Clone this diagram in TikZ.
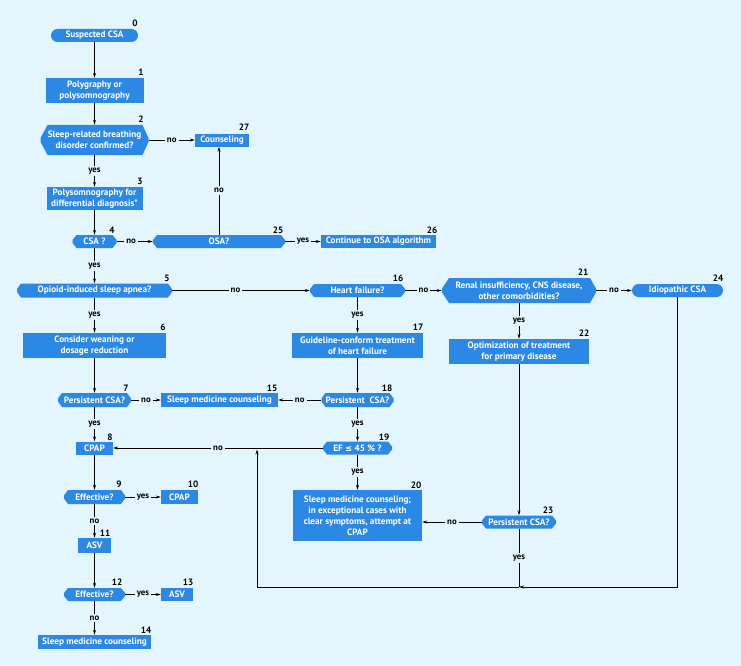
\documentclass[tikz,border=0pt]{standalone}
\usepackage{fontspec}
\setmainfont{PT Sans}
\newfontfamily\symf{DejaVu Sans}
\usetikzlibrary{shapes.misc,arrows.meta}
\definecolor{bg}{RGB}{227,246,253}
\definecolor{boxblue}{RGB}{43,137,229}
\begin{document}
\begin{tikzpicture}[x=1pt,y=-1pt,
 box/.style={inner sep=0pt, text=white, font=\fontsize{9.2}{11}\selectfont\bfseries, align=center},
 rbox/.style={box, rectangle, fill=boxblue},
 stad/.style={box, rounded rectangle, fill=boxblue},
 hexs/.style={box, rectangle, path picture={\fill[boxblue]
   ([xshift=4pt]path picture bounding box.north west) -- ([xshift=-4pt]path picture bounding box.north east) --
   ([yshift=1.5pt]path picture bounding box.east) -- ([yshift=-1.5pt]path picture bounding box.east) --
   ([xshift=-4pt]path picture bounding box.south east) -- ([xshift=4pt]path picture bounding box.south west) --
   ([yshift=-1.5pt]path picture bounding box.west) -- ([yshift=1.5pt]path picture bounding box.west) -- cycle;}},
 hexl/.style={box, rectangle, path picture={\fill[boxblue]
   ([xshift=7pt]path picture bounding box.north west) -- ([xshift=-6pt]path picture bounding box.north east) --
   ([yshift=2pt]path picture bounding box.east) -- ([yshift=-2pt]path picture bounding box.east) --
   ([xshift=-6pt]path picture bounding box.south east) -- ([xshift=7pt]path picture bounding box.south west) --
   ([yshift=-2pt]path picture bounding box.west) -- ([yshift=2pt]path picture bounding box.west) -- cycle;}},
 num/.style={inner sep=0pt, font=\fontsize{9.2}{10}\selectfont\bfseries},
 lab/.style={fill=bg, inner sep=2pt, font=\fontsize{8.8}{10}\selectfont\bfseries},
 ln/.style={draw, line width=0.7pt},
 arr/.style={draw, line width=0.7pt, -{Stealth[length=5pt,width=3pt]}}]
\fill[bg] (0,0) rectangle (741,666);
\useasboundingbox (0,0) rectangle (741,666);
% left column
\node[stad, minimum width=87pt, minimum height=13pt] (b0) at (94.5,35.5) {Suspected CSA};
\node[rbox, minimum width=98pt, minimum height=25pt] (b1) at (94.5,90.5) {Polygraphy or\\polysomnography};
\node[hexl, minimum width=108pt, minimum height=30pt] (b2) at (94.5,140) {Sleep-related breathing\\disorder confirmed?};
\node[rbox, minimum width=54pt, minimum height=13pt] (b27) at (222,140) {Counseling};
\node[rbox, minimum width=96pt, minimum height=23pt] (b3) at (94.5,198.5) {Polysomnography for\\differential diagnosis*};
\node[hexs, minimum width=44pt, minimum height=13pt] (b4) at (94.5,241.5) {CSA ?};
\node[hexs, minimum width=132pt, minimum height=13pt] (b25) at (219,241.5) {OSA?};
\node[rbox, minimum width=115pt, minimum height=13pt] (b26) at (378.5,241.5) {Continue to OSA algorithm};
\node[hexs, minimum width=155pt, minimum height=14pt] (b5) at (94.5,290.5) {Opioid-induced sleep apnea?};
\node[rbox, minimum width=143pt, minimum height=25pt] (b6) at (94.5,345.5) {Consider weaning or\\dosage reduction};
\node[hexs, minimum width=73pt, minimum height=14pt] (b7) at (94.5,400) {Persistent CSA?};
\node[rbox, minimum width=117pt, minimum height=14pt] (b15) at (219.5,400) {Sleep medicine counseling};
\node[rbox, minimum width=37pt, minimum height=13pt] (b8) at (94.5,448) {CPAP};
\node[hexs, minimum width=61pt, minimum height=14pt] (b9) at (94.5,497) {Effective?};
\node[rbox, minimum width=37pt, minimum height=14pt] (b10) at (179.5,497) {CPAP};
\node[rbox, minimum width=33pt, minimum height=15pt] (b11) at (94.5,545.5) {ASV};
\node[hexs, minimum width=61pt, minimum height=13pt] (b12) at (94.5,594.5) {Effective?};
\node[rbox, minimum width=32pt, minimum height=13pt] (b13) at (177,594.5) {ASV};
\node[rbox, minimum width=113pt, minimum height=14pt] (b14) at (94.5,642) {Sleep medicine counseling};
% middle column
\node[hexs, minimum width=95pt, minimum height=13pt] (b16) at (357.5,290.5) {Heart failure?};
\node[rbox, minimum width=131pt, minimum height=25pt] (b17) at (357.5,345.5) {Guideline-conform treatment\\of heart failure};
\node[hexs, minimum width=72pt, minimum height=14pt] (b18) at (357.5,400) {Persistent\ \ CSA?};
\node[hexs, minimum width=69pt, minimum height=13pt] (b19) at (357.5,448) {EF {\symf\fontsize{8.4}{9}\selectfont ≤} 45 \% ?};
\node[rbox, minimum width=129pt, minimum height=51pt] (b20) at (357.5,515.5) {Sleep medicine counseling;\\in exceptional cases with\\clear symptoms, attempt at\\CPAP};
% right column
\node[hexl, minimum width=154pt, minimum height=25pt] (b21) at (519,290.5) {Renal insufficiency, CNS disease,\\other comorbidities?};
\node[stad, minimum width=91pt, minimum height=13pt] (b24) at (677.5,290.5) {Idiopathic CSA};
\node[rbox, minimum width=140pt, minimum height=25pt] (b22) at (519,351.5) {Optimization of treatment\\for primary disease};
\node[hexs, minimum width=74pt, minimum height=13pt] (b23) at (519,522) {Persistent CSA?};
% numbers
\node[num] (n0) at (135,23) {0};
\node[num] (n1) at (141,72) {1};
\node[num] (n2) at (141,119) {2};
\node[num] (n27) at (244,127) {27};
\node[num] (n3) at (140,181) {3};
\node[num] (n4) at (112,230) {4};
\node[num] (n25) at (278,230) {25};
\node[num] (n26) at (432,230) {26};
\node[num] (n5) at (167,278) {5};
\node[num] (n6) at (163,327) {6};
\node[num] (n7) at (126,388) {7};
\node[num] (n15) at (272,388) {15};
\node[num] (n8) at (110,437) {8};
\node[num] (n9) at (119,484) {9};
\node[num] (n10) at (193,484) {10};
\node[num] (n11) at (105,533) {11};
\node[num] (n12) at (117,582) {12};
\node[num] (n13) at (188,582) {13};
\node[num] (n14) at (146,630) {14};
\node[num] (n16) at (398,278) {16};
\node[num] (n17) at (418,327) {17};
\node[num] (n18) at (387,388) {18};
\node[num] (n19) at (384,437) {19};
\node[num] (n20) at (416,485) {20};
\node[num] (n21) at (583,272) {21};
\node[num] (n24) at (718,278) {24};
\node[num] (n22) at (584,333) {22};
\node[num] (n23) at (548,510) {23};
% connectors
\draw[arr] (b0) -- (b1);
\draw[arr] (b1) -- (b2);
\draw[arr] (b2.east) -- node[lab] (l1) {no} (b27.west);
\draw[arr] (b2) -- node[lab] (l2) {yes} (b3);
\draw[arr] (b3) -- (b4);
\draw[arr] (b4.east) -- node[lab, pos=0.4] (l3) {no} (b25.west);
\draw[arr] (b25.north) -- node[lab] (l4) {no} (b25.north |- b27.south);
\draw[arr] (b25.east) -- node[lab] (l5) {yes} (b26.west);
\draw[arr] (b4) -- node[lab] (l6) {yes} (b5);
\draw[arr] (b5.east) -- node[lab, pos=0.46] (l7) {no} (b16.west);
\draw[arr] (b16.east) -- node[lab] (l8) {no} (b21.west);
\draw[arr] (b21.east) -- node[lab] (l9) {no} (b24.west);
\draw[arr] (b5) -- node[lab] (l10) {yes} (b6);
\draw[arr] (b6) -- (b7);
\draw[arr] (b7.east) -- node[lab] (l11) {no} (b15.west);
\draw[arr] (b7) -- node[lab] (l12) {yes} (b8);
\draw[arr] (b8) -- (b9);
\draw[arr] (b9.east) -- node[lab] (l13) {yes} (b10.west);
\draw[arr] (b9) -- node[lab] (l14) {no} (b11);
\draw[arr] (b11) -- (b12);
\draw[arr] (b12.east) -- node[lab] (l15) {yes} (b13.west);
\draw[arr] (b12) -- node[lab] (l16) {no} (b14);
\draw[arr] (b16) -- node[lab] (l17) {yes} (b17);
\draw[arr] (b17) -- (b18);
\draw[arr] (b18.west) -- node[lab] (l18) {no} (b15.east);
\draw[arr] (b18) -- node[lab] (l19) {yes} (b19);
\draw[arr] (b19.west) -- node[lab] (l20) {no} (b8.east);
\draw[arr] (b19) -- node[lab] (l21) {yes} (b20);
\draw[arr] (b21) -- node[lab] (l22) {yes} (b22);
\draw[arr] (b22) -- (b23);
\draw[arr] (b23.west) -- node[lab] (l23) {no} (b23.west -| b20.east);
\coordinate (j1) at (519,587);
\coordinate (j2) at (257,449.5);
\draw[arr] (b24.south) |- (j1);
\draw[ln] (b23.south) -- node[lab] (l24) {yes} (j1);
\draw[arr] (j1) -| (j2);
\end{tikzpicture}
\end{document}
